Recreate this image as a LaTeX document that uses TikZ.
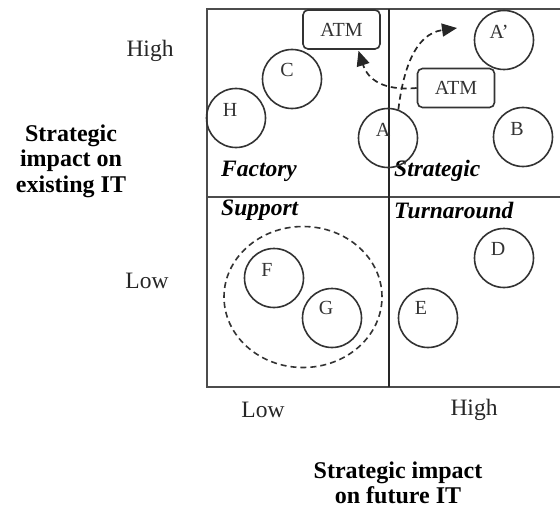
\documentclass[tikz,border=0pt]{standalone}
\usepackage{fontspec}
\setmainfont{Liberation Serif}
\usetikzlibrary{arrows.meta,shapes.geometric}
\begin{document}
\begin{tikzpicture}[x=1pt,y=-1pt,
  frame/.style={draw=black!70, line width=2pt},
  divider/.style={draw=black!85, line width=1.6pt},
  item/.style={circle, draw=black!80, line width=1.6pt, minimum size=59pt, inner sep=0pt},
  lbl/.style={font=\fontsize{20}{22}\selectfont, text=black!80, inner sep=0pt},
  atm/.style={draw=black!80, line width=1.6pt, rounded corners=5pt, minimum width=77pt, minimum height=39pt, inner sep=0pt, font=\fontsize{20}{22}\selectfont, text=black!80},
  quad/.style={font=\fontsize{23.5}{26}\selectfont\bfseries\itshape, anchor=west, inner sep=0pt},
  axis/.style={font=\fontsize{23.5}{26}\selectfont, text=black!85, inner sep=0pt},
  ttl/.style={font=\fontsize{24}{25.5}\selectfont\bfseries, align=center, inner sep=0pt},
  mv/.style={draw=black!85, line width=1.7pt, dash pattern=on 6pt off 4pt, -{Triangle[length=15pt,width=13pt]}}]
\useasboundingbox (0,0) rectangle (560,511);
% frame
\coordinate (tl) at (207,9);
\coordinate (tr) at (562,9);
\coordinate (bl) at (207,387);
\coordinate (br) at (562,387);
\coordinate (ml) at (207,197);
\coordinate (mr) at (562,197);
\coordinate (mt) at (389,9);
\coordinate (mb) at (389,387);
\draw[frame] (tr) -- (tl) -- (bl) -- (br);
\draw[frame] (ml) -- (mr);
\draw[divider] (mt) -- (mb);
% axis labels
\node[axis] (hy) at (150,51) {High};
\node[axis] (ly) at (147,281) {Low};
\node[axis] (lx) at (263,410) {Low};
\node[axis] (hx) at (474,410) {High};
\node[ttl] (ty) at (71,161) {Strategic\\impact on\\existing IT};
\node[ttl] (tx) at (398,483) {Strategic impact\\on future IT};
% quadrant labels
\node[quad] (qf) at (221,171) {Factory};
\node[quad] (qs) at (394,171) {Strategic};
\node[quad] (qsu) at (221,210) {Support};
\node[quad] (qt) at (394,210) {Turnaround};
% circles
\node[item] (Ap) at (504,40) {};
\node[lbl] at ([shift={(-5,-8)}]Ap.center) {A'};
\node[item] (C) at (292,79) {};
\node[lbl] at ([shift={(-5,-9)}]C.center) {C};
\node[item] (H) at (236,118) {};
\node[lbl] at ([shift={(-6,-8)}]H.center) {H};
\node[item] (A) at (388,138) {};
\node[lbl] at ([shift={(-5,-8)}]A.center) {A};
\node[item] (B) at (523,137) {};
\node[lbl] at ([shift={(-6,-8)}]B.center) {B};
\node[item] (F) at (274,278) {};
\node[lbl] at ([shift={(-7,-8)}]F.center) {F};
\node[item] (G) at (332,318) {};
\node[lbl] at ([shift={(-6,-10)}]G.center) {G};
\node[item] (D) at (504,258) {};
\node[lbl] at ([shift={(-6,-9)}]D.center) {D};
\node[item] (E) at (428,318) {};
\node[lbl] at ([shift={(-7,-10)}]E.center) {E};
% group
\node[ellipse, draw=black!80, line width=1.6pt, dash pattern=on 6pt off 4pt, minimum width=158pt, minimum height=141pt] (grp) at (303,297) {};
% ATM boxes
\node[atm] (atm1) at (341.5,29.5) {ATM};
\node[atm] (atm2) at (456,88) {ATM};
% moves
\coordinate (tipA) at (457,28);
\draw[mv] (atm2.west) .. controls (384,91) and (368,80) .. ([xshift=17pt,yshift=-1pt]atm1.south);
\draw[mv] (A.70) .. controls (403,72) and (414,34) .. (tipA);
\end{tikzpicture}
\end{document}
